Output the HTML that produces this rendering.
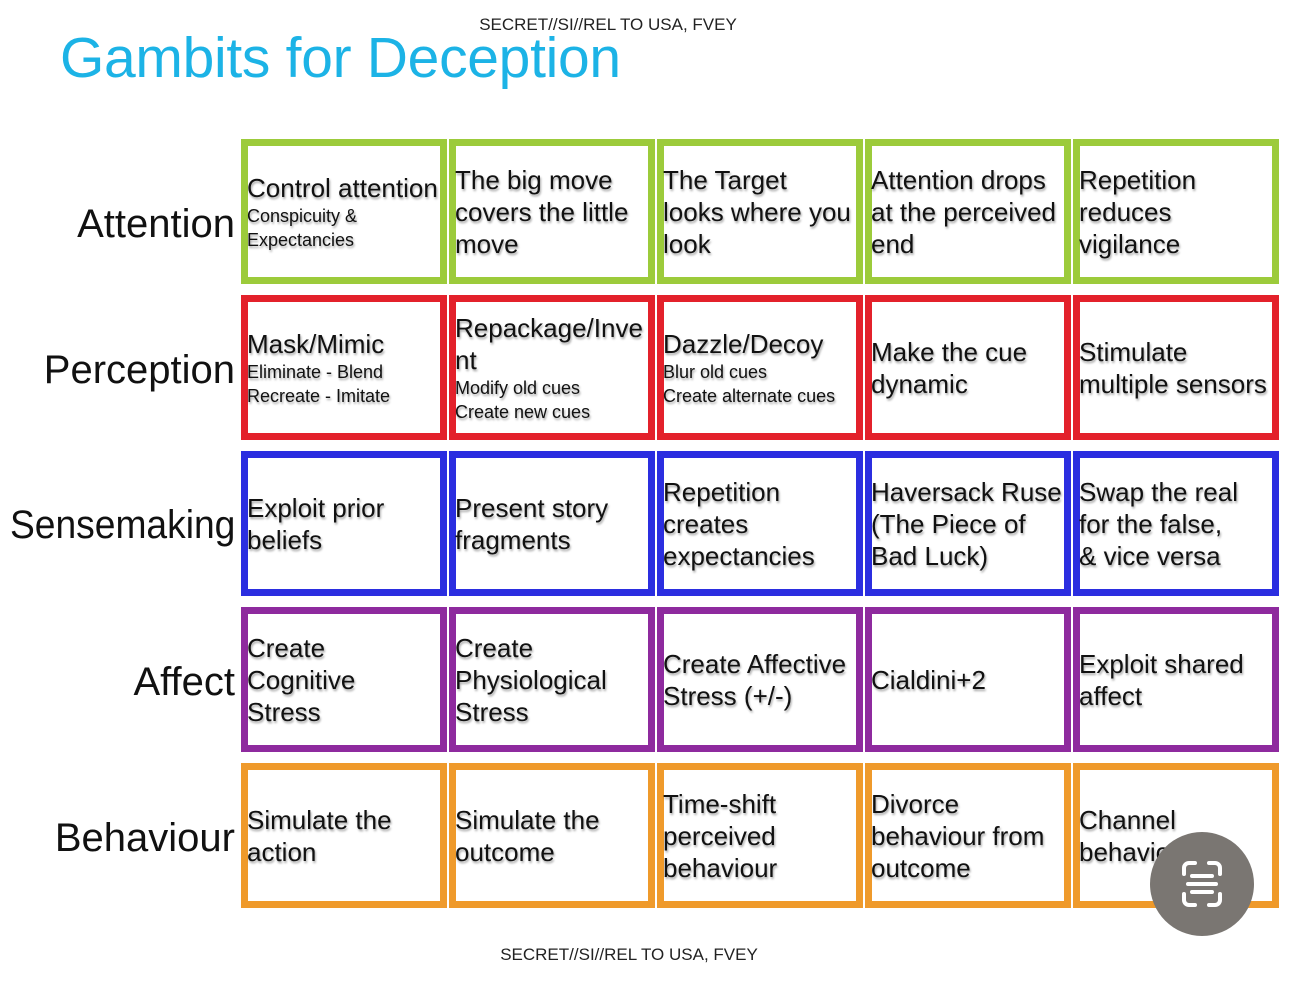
<!DOCTYPE html>
<html><head><style>
body{margin:0;width:1290px;height:994px;background:#fff;position:relative;overflow:hidden;font-family:"Liberation Sans",Arial,sans-serif}
.c{position:absolute;width:206px;height:145px;box-sizing:border-box;border:7px solid;display:flex;flex-direction:column;justify-content:center;padding-left:0;color:#111;text-shadow:1px 2px 2px rgba(0,0,0,.35);overflow:visible;white-space:nowrap}
.c .m{font-size:26px;line-height:32px;margin-left:-1px}
.c .s{font-size:18px;line-height:24px;margin-left:-1px}
.g{border-color:#9ccb3b}.r{border-color:#e3212b}.b{border-color:#2b2ee0}.p{border-color:#8e2a9e}.o{border-color:#ef9a2b}
.l{position:absolute;right:1055px;font-size:40px;color:#111;white-space:nowrap}
.cls{position:absolute;font-size:17px;color:#222;width:1290px;text-align:center}
</style></head><body>
<div class="cls" style="top:15px;left:-37px">SECRET//SI//REL TO USA, FVEY</div>
<div style="position:absolute;left:60px;top:25px;font-size:57px;color:#1cb3e6;letter-spacing:-0.3px">Gambits for Deception</div>
<div class="l" style="top:202px">Attention</div>
<div class="l" style="top:348px">Perception</div>
<div class="l" style="top:503px;transform:scaleX(0.93);transform-origin:right center">Sensemaking</div>
<div class="l" style="top:660px">Affect</div>
<div class="l" style="top:816px">Behaviour</div>

<div class="c g" style="left:241px;top:139px"><div class="m">Control attention</div><div class="s">Conspicuity &amp;<br>Expectancies</div></div>
<div class="c g" style="left:449px;top:139px"><div class="m">The big move<br>covers the little<br>move</div></div>
<div class="c g" style="left:657px;top:139px"><div class="m">The Target<br>looks where you<br>look</div></div>
<div class="c g" style="left:865px;top:139px"><div class="m">Attention drops<br>at the perceived<br>end</div></div>
<div class="c g" style="left:1073px;top:139px"><div class="m">Repetition<br>reduces<br>vigilance</div></div>

<div class="c r" style="left:241px;top:295px"><div class="m">Mask/Mimic</div><div class="s">Eliminate - Blend<br>Recreate - Imitate</div></div>
<div class="c r" style="left:449px;top:295px"><div class="m">Repackage/Inve<br>nt</div><div class="s">Modify old cues<br>Create new cues</div></div>
<div class="c r" style="left:657px;top:295px"><div class="m">Dazzle/Decoy</div><div class="s">Blur old cues<br>Create alternate cues</div></div>
<div class="c r" style="left:865px;top:295px"><div class="m">Make the cue<br>dynamic</div></div>
<div class="c r" style="left:1073px;top:295px"><div class="m">Stimulate<br>multiple sensors</div></div>

<div class="c b" style="left:241px;top:451px"><div class="m">Exploit prior<br>beliefs</div></div>
<div class="c b" style="left:449px;top:451px"><div class="m">Present story<br>fragments</div></div>
<div class="c b" style="left:657px;top:451px"><div class="m">Repetition<br>creates<br>expectancies</div></div>
<div class="c b" style="left:865px;top:451px"><div class="m">Haversack Ruse<br>(The Piece of<br>Bad Luck)</div></div>
<div class="c b" style="left:1073px;top:451px"><div class="m">Swap the real<br>for the false,<br>&amp; vice versa</div></div>

<div class="c p" style="left:241px;top:607px"><div class="m">Create<br>Cognitive<br>Stress</div></div>
<div class="c p" style="left:449px;top:607px"><div class="m">Create<br>Physiological<br>Stress</div></div>
<div class="c p" style="left:657px;top:607px"><div class="m">Create Affective<br>Stress (+/-)</div></div>
<div class="c p" style="left:865px;top:607px"><div class="m">Cialdini+2</div></div>
<div class="c p" style="left:1073px;top:607px"><div class="m">Exploit shared<br>affect</div></div>

<div class="c o" style="left:241px;top:763px"><div class="m">Simulate the<br>action</div></div>
<div class="c o" style="left:449px;top:763px"><div class="m">Simulate the<br>outcome</div></div>
<div class="c o" style="left:657px;top:763px"><div class="m">Time-shift<br>perceived<br>behaviour</div></div>
<div class="c o" style="left:865px;top:763px"><div class="m">Divorce<br>behaviour from<br>outcome</div></div>
<div class="c o" style="left:1073px;top:763px"><div class="m">Channel<br>behaviour</div></div>

<div class="cls" style="top:945px;left:-16px">SECRET//SI//REL TO USA, FVEY</div>

<svg style="position:absolute;left:1150px;top:832px" width="104" height="104" viewBox="0 0 104 104">
<circle cx="52" cy="52" r="52" fill="#7a7672"/>
<g fill="none" stroke="#fff" stroke-width="4" stroke-linecap="round">
<path d="M34 42v-6a5 5 0 0 1 5-5h6M59 31h6a5 5 0 0 1 5 5v6M70 62v6a5 5 0 0 1-5 5h-6M45 73h-6a5 5 0 0 1-5-5v-6"/>
<path d="M42 44h20M38 52h28M42 60h20"/>
</g></svg>
</body></html>
